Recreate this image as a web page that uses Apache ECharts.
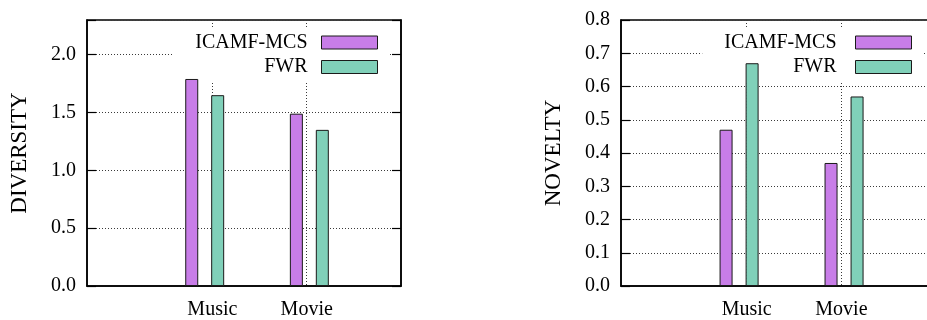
<!DOCTYPE html>
<html>
<head>
<meta charset="utf-8">
<title>Diversity and novelty by domain</title>
<script src="https://cdn.jsdelivr.net/npm/echarts@6/dist/echarts.min.js"></script>
<style>
  html, body { margin: 0; padding: 0; background: #ffffff; }
  #chart { width: 927px; height: 320px; }
</style>
</head>
<body>
<div id="chart"></div>
<script>
// Domains on the x axis
const categories = ['Music', 'Movie'];
const seriesNames = ['ICAMF-MCS', 'FWR'];

// Left panel: diversity
const diversityIcamf = [1.79, 1.49];
const diversityFwr = [1.65, 1.35];

// Right panel: novelty
const noveltyIcamf = [0.47, 0.37];
const noveltyFwr = [0.67, 0.57];

// Y tick settings
const diversityTicks = { min: 0, max: 2.3, step: 0.5 };
const noveltyTicks = { min: 0, max: 0.8, step: 0.1 };

const FONT = 'Liberation Serif';
const COLORS = ['#c87de8', '#80d0b9'];
const BAR_SHIFT = [-0.124, 0.124];   // bar centre relative to its group
const LABEL_AT = [0.073, 0.975];     // where the domain names sit on the x scale
const dotted = { color: '#3a3a3a', width: 1, type: [1, 2] };

function barData(values, s) {
  return values.map((v, i) => [i + BAR_SHIFT[s], v]);
}

function fmtTick(step) {
  return v => {
    const r = v / step;
    return Math.abs(r - Math.round(r)) < 1e-6 ? v.toFixed(1) : '';
  };
}

function xAxisFor(gridIndex) {
  return {
    type: 'value', gridIndex,
    min: -1.125, max: 1.876,
    axisLine: { show: true, onZero: false, lineStyle: { color: '#000', width: 1.5 } },
    axisTick: { show: false, customValues: LABEL_AT },
    axisLabel: {
      customValues: LABEL_AT, margin: 14,
      color: '#000', fontFamily: FONT, fontSize: 20,
      formatter: v => categories[Math.round(v)]
    },
    splitLine: { show: true, lineStyle: dotted }
  };
}

function yAxesFor(gridIndex, ticks, name) {
  return [
    {
      type: 'value', gridIndex, position: 'left',
      min: ticks.min, max: ticks.max, interval: ticks.step,
      name, nameLocation: 'middle', nameGap: 56,
      nameTextStyle: { color: '#000', fontFamily: FONT, fontSize: 23 },
      axisLine: { show: true, onZero: false, lineStyle: { color: '#000', width: 1.5 } },
      axisTick: { show: true, inside: true, length: 9, lineStyle: { color: '#000', width: 1.2 } },
      axisLabel: { margin: 11, color: '#000', fontFamily: FONT, fontSize: 20, formatter: fmtTick(ticks.step) },
      splitLine: { show: true, lineStyle: dotted }
    },
    {
      type: 'value', gridIndex, position: 'right',
      min: ticks.min, max: ticks.max, interval: ticks.step,
      axisLine: { show: true, onZero: false, lineStyle: { color: '#000', width: 1.5 } },
      axisTick: { show: true, inside: true, length: 9, lineStyle: { color: '#000', width: 1.2 } },
      axisLabel: { show: false },
      splitLine: { show: false }
    }
  ];
}

function legendFor(right, padding, textPad) {
  return {
    orient: 'vertical', align: 'right',
    right, top: 28.5, padding,
    backgroundColor: '#ffffff', z: 1,
    itemWidth: 56, itemHeight: 13, itemGap: 4.5,
    icon: 'rect',
    itemStyle: { borderColor: '#1a1a1a', borderWidth: 1 },
    textStyle: { color: '#000', fontFamily: FONT, fontSize: 20, lineHeight: 20, padding: [0, textPad, 0, 0] },
    data: seriesNames,
    selectedMode: false
  };
}

function bars(name, data, s, axisIndex) {
  return {
    name, type: 'bar',
    xAxisIndex: axisIndex, yAxisIndex: axisIndex * 2,
    data: barData(data, s),
    barWidth: 13, barGap: '-100%',
    itemStyle: { color: COLORS[s], borderColor: '#1a1a1a', borderWidth: 1 },
    silent: true, z: 2
  };
}

const chart = echarts.init(document.getElementById('chart'), null, { renderer: 'canvas' });
chart.setOption({
  backgroundColor: '#ffffff',
  animation: false,
  textStyle: { fontFamily: FONT },
  grid: [
    { left: 87, top: 20, width: 314, height: 266, show: true, borderColor: '#000', borderWidth: 1.5, outerBoundsMode: 'none' },
    { left: 621, top: 20, width: 315, height: 266, show: true, borderColor: '#000', borderWidth: 1.5, outerBoundsMode: 'none' }
  ],
  legend: [
    legendFor(538, [4, 11, 4, 22], 9),
    legendFor(5, [4, 10, 4, 22], 14)
  ],
  xAxis: [xAxisFor(0), xAxisFor(1)],
  yAxis: [
    ...yAxesFor(0, diversityTicks, 'DIVERSITY'),
    ...yAxesFor(1, noveltyTicks, 'NOVELTY')
  ],
  series: [
    bars(seriesNames[0], diversityIcamf, 0, 0),
    bars(seriesNames[1], diversityFwr, 1, 0),
    bars(seriesNames[0], noveltyIcamf, 0, 1),
    bars(seriesNames[1], noveltyFwr, 1, 1)
  ]
});
</script>
</body>
</html>
